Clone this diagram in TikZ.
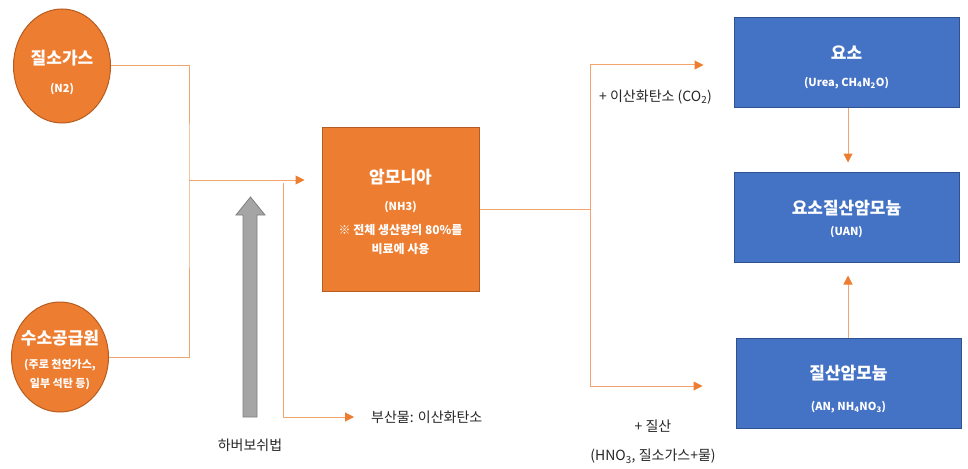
\documentclass[tikz,border=0pt]{standalone}
\usepackage{fontspec}
\setmainfont{Noto Sans CJK KR}
\usetikzlibrary{shapes.geometric,arrows.meta}
\definecolor{ofill}{HTML}{ED7D31}
\definecolor{oborder}{HTML}{B65C20}
\definecolor{oline}{HTML}{F2A46E}
\definecolor{bfill}{HTML}{4472C4}
\definecolor{bborder}{HTML}{2F528F}
\definecolor{gfill}{HTML}{A5A5A5}
\definecolor{gborder}{HTML}{7F7F7F}
\definecolor{txt}{HTML}{262626}
\newcommand{\Tsz}{\fontsize{17}{20}\selectfont}
\newcommand{\Ssz}{\fontsize{11}{14}\selectfont}
\tikzset{
 src/.style={ellipse, fill=ofill, draw=oborder, line width=1pt, inner sep=0pt},
 obox/.style={rectangle, fill=ofill, draw=oborder, line width=1pt, minimum width=157pt, minimum height=164pt},
 bbox/.style={rectangle, fill=bfill, draw=bborder, line width=1pt, minimum width=225pt, minimum height=90pt},
 intext/.style={text=white, font=\bfseries, align=center, inner sep=0pt},
 conn/.style={draw=oline, line width=1pt},
 flow/.style={conn, -{Triangle[length=9pt,width=9pt,color=ofill]}},
 lbl/.style={text=txt, inner sep=0pt, font=\fontsize{14}{17}\selectfont},
}
\begin{document}
\begin{tikzpicture}[x=1pt,y=-1pt]
\useasboundingbox (0,0) rectangle (968,468);
% sources
\node[src, minimum width=97pt, minimum height=114pt] (n2) at (62,66) {};
\node[intext] (n2t) at ([yshift=-6pt]n2.center) {\Tsz 질소가스\\[16pt]\Ssz (N2)};
\node[src, minimum width=97pt, minimum height=110pt] (h2) at (60,357) {};
\node[intext] (h2t) at ([yshift=-3pt]h2.center)
  {\Tsz 수소공급원\\[12pt]\Ssz (주로 천연가스,\\[7pt]\Ssz 일부 석탄 등)};
% ammonia
\node[obox] (nh3) at (400.5,209) {};
\node[intext] (nh3t) at ([yshift=-3pt]nh3.center)
  {\Tsz 암모니아\\[15pt]\Ssz (NH3)\\[11pt]\fontsize{12}{15}\selectfont ※ 전체 생산량의 80\%를\\[7pt]\fontsize{12}{15}\selectfont 비료에 사용};
% products
\node[bbox] (urea) at (846.5,63) {};
\node[intext] (ureat) at ([yshift=-4pt]urea.center)
  {\Tsz 요소\\[15pt]\Ssz (Urea, CH\textsubscript{4}N\textsubscript{2}O)};
\node[bbox] (uan) at (846.5,217) {};
\node[intext] (uant) at ([yshift=-2pt]uan.center)
  {\Tsz 요소질산암모늄\\[9pt]\Ssz (UAN)};
\node[bbox] (an) at (848.5,383) {};
\node[intext] (ant) at ([yshift=-6pt]an.center)
  {\Tsz 질산암모늄\\[19pt]\Ssz (AN, NH\textsubscript{4}NO\textsubscript{3})};
% labels
\node[lbl] (haber) at (250,445) {하버보쉬법};
\node[lbl, anchor=west] (byp) at (371,417) {부산물: 이산화탄소};
\node[lbl, anchor=west] (co2) at (599,97) {+ 이산화탄소 (CO\textsubscript{2})};
\node[lbl, align=center] (hno3) at (653,442) {+ 질산\\[12pt](HNO\textsubscript{3}, 질소가스+물)};
% coordinates
\coordinate (jin) at (189,180);
\coordinate (bp) at (283,183);
\coordinate (jout) at (590,209);
% gray arrow (Haber-Bosch)
\draw[fill=gfill, draw=gborder, line width=0.8pt] (243,417) -- (243,215) -- (236,215) -- (250.5,197) -- (265,215) -- (257,215) -- (257,417) -- cycle;
% feed connectors
\draw[conn] (n2.east) -| (jin) |- (h2.east);
\draw[flow, shorten >=17pt] (jin) -- (nh3.west |- jin);
\draw[flow, shorten >=17pt] (bp) |- (byp.west);
% product connectors
\draw[conn] (nh3.east) -- (jout);
\draw[flow, shorten >=30pt] (jout) |- ([yshift=-2pt]urea.west);
\draw[flow, shorten >=33pt] (jout) |- ([yshift=-3pt]an.west);
\draw[flow, shorten >=9pt] (urea.south -| 848,0) -- (uan.north -| 848,0);
\draw[flow, shorten >=13pt] (an.north -| 848,0) -- (uan.south -| 848,0);
\end{tikzpicture}
\end{document}
